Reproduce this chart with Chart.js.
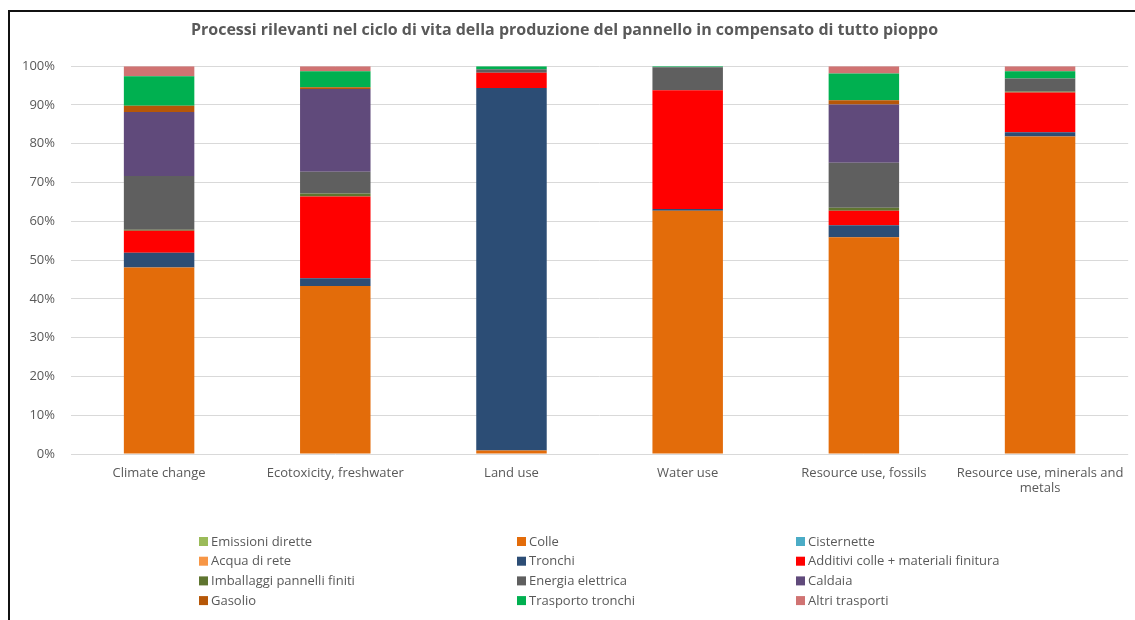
<!DOCTYPE html>
<html>
<head>
<meta charset="utf-8">
<script src="https://cdn.jsdelivr.net/npm/chart.js@4/dist/chart.umd.min.js"></script>
<style>
  body { margin: 0; background: #fff; }
  #wrap { position: relative; width: 1135px; height: 620px; }
  #frame { position: absolute; left: 8px; top: 10px; right: -4px; bottom: -4px; border-left: 2px solid #111; border-top: 2px solid #111; pointer-events: none; }
</style>
</head>
<body>
<div id="wrap">
  <canvas id="chart" width="1135" height="620"></canvas>
  <div id="frame"></div>
</div>
<script>
const categories = ["Climate change", "Ecotoxicity, freshwater", "Land use", "Water use", "Resource use, fossils", ["Resource use, minerals and", "metals"]]

// percentuali, dal basso verso l'alto
const emissioni_dirette = [0, 0, 0, 0, 0, 0]
const colle = [48.1, 43.3, 0.9, 62.7, 55.9, 81.9]
const cisternette = [0, 0, 0, 0, 0, 0]
const acqua_di_rete = [0, 0, 0, 0, 0, 0]
const tronchi = [3.8, 2.0, 93.5, 0.5, 3.1, 1.1]
const additivi = [5.7, 21.1, 3.9, 30.6, 3.7, 10.2]
const imballaggi = [0.2, 0.8, 0, 0, 0.8, 0.3]
const energia_elettrica = [13.9, 5.6, 0.9, 5.9, 11.6, 3.3]
const caldaia = [16.5, 21.3, 0, 0, 15.0, 0]
const gasolio = [1.6, 0.5, 0, 0, 1.1, 0]
const trasporto_tronchi = [7.6, 4.1, 0.8, 0.3, 6.9, 1.9]
const altri_trasporti = [2.6, 1.3, 0, 0, 1.9, 1.3]

const y_ticks = [0, 10, 20, 30, 40, 50, 60, 70, 80, 90, 100]

const series = [
    ["Emissioni dirette", emissioni_dirette, "#9BBB59"],
    ["Colle", colle, "#E36C0A"],
    ["Cisternette", cisternette, "#4BACC6"],
    ["Acqua di rete", acqua_di_rete, "#F79646"],
    ["Tronchi", tronchi, "#2C4D75"],
    ["Additivi colle + materiali finitura", additivi, "#FF0000"],
    ["Imballaggi pannelli finiti", imballaggi, "#5F7530"],
    ["Energia elettrica", energia_elettrica, "#5F5F5F"],
    ["Caldaia", caldaia, "#604A7B"],
    ["Gasolio", gasolio, "#B65708"],
    ["Trasporto tronchi", trasporto_tronchi, "#00B050"],
    ["Altri trasporti", altri_trasporti, "#D07372"]
]

const text_color = "#595959"
const font_family = "'Open Sans', 'Noto Sans', sans-serif"

// legenda a 3 colonne sotto il grafico
const grid_legend = {
    id: "grid_legend",
    afterDraw(chart) {
        const ctx = chart.ctx
        const col_x = [199, 517, 796]
        const top = chart.chartArea.bottom + 88
        const row_h = 19.7
        ctx.save()
        ctx.font = "13px " + font_family
        ctx.textBaseline = "middle"
        chart.data.datasets.forEach((ds, i) => {
            const x = col_x[i % 3]
            const y = top + Math.floor(i / 3) * row_h
            ctx.fillStyle = ds.backgroundColor
            ctx.fillRect(x, y - 5, 9, 9)
            ctx.fillStyle = text_color
            ctx.fillText(ds.label, x + 12, y)
        })
        ctx.restore()
    }
}

var ctx = document.getElementById("chart").getContext("2d")
var myChart = new Chart(ctx, {
    type: "bar",
    data: {
        labels: categories,
        datasets: series.map(s => ({
            label: s[0],
            data: s[1],
            backgroundColor: s[2],
            borderWidth: 0,
            barPercentage: 0.4,
            categoryPercentage: 1
        }))
    },
    options: {
        responsive: false,
        animation: false,
        layout: { padding: { left: 0, right: 6, top: 0, bottom: 0 } },
        plugins: {
            legend: { display: false },
            tooltip: { enabled: false },
            title: {
                display: true,
                text: "Processi rilevanti nel ciclo di vita della produzione del pannello in compensato di tutto pioppo",
                color: text_color,
                font: { family: font_family, size: 16, weight: "bold" },
                padding: { top: 21, bottom: 26 }
            }
        },
        scales: {
            x: {
                stacked: true,
                grid: { display: false, drawTicks: false },
                border: { display: false },
                ticks: { color: text_color, font: { family: font_family, size: 13 }, padding: 11, maxRotation: 0 },
                afterFit: (scale) => { scale.height = 166 }
            },
            y: {
                stacked: true,
                min: 0,
                max: 100,
                afterBuildTicks: (scale) => { scale.ticks = y_ticks.map(v => ({ value: v })) },
                grid: { color: "#D9D9D9", drawTicks: false },
                border: { display: false },
                ticks: { color: text_color, font: { family: font_family, size: 13 }, padding: 16, callback: (v) => v + "%" },
                afterFit: (scale) => { scale.width = 71 }
            }
        }
    },
    plugins: [grid_legend]
})
</script>
</body>
</html>
